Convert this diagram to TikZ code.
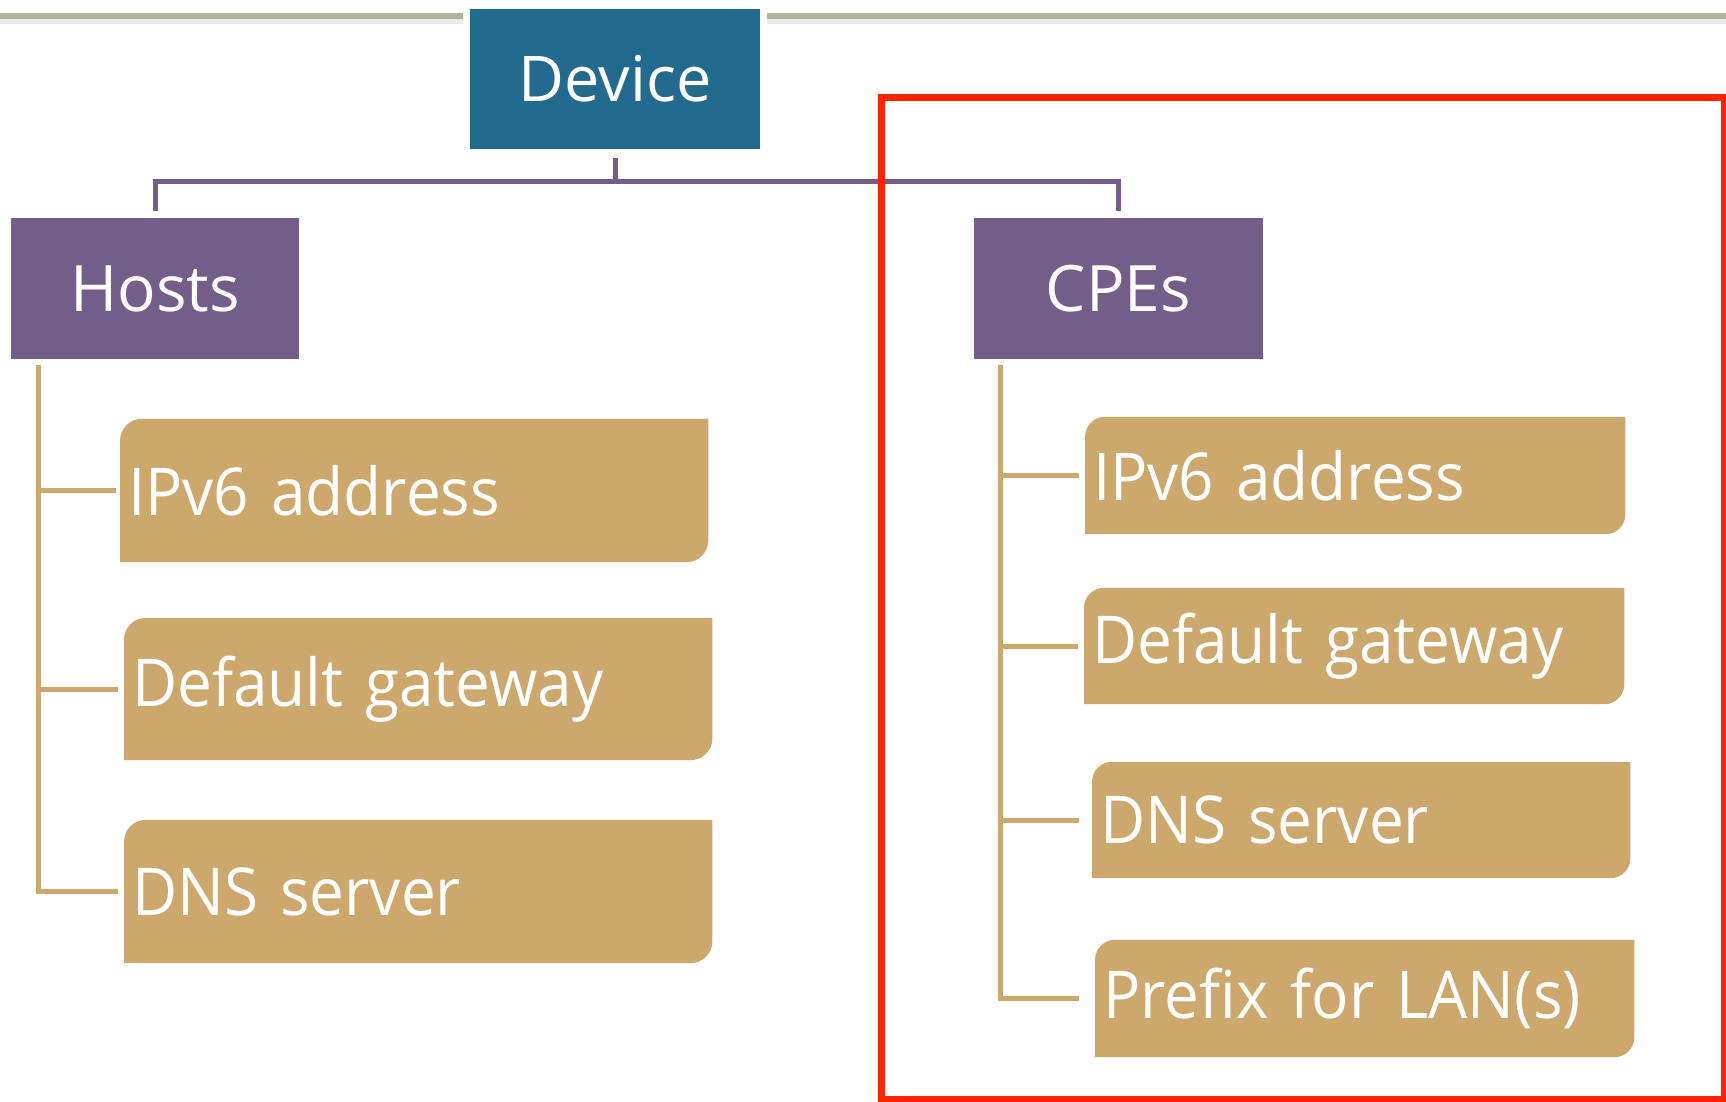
\documentclass[tikz,border=0pt]{standalone}
\usepackage{fontspec}
\setmainfont{Open Sans}
\newfontfamily\leaffont[FakeStretch=0.94]{Open Sans}
\pgfdeclarelayer{bg}
\pgfsetlayers{bg,main}
\definecolor{devblue}{HTML}{226B8F}
\definecolor{grpurple}{HTML}{735E8A}
\definecolor{leaftan}{HTML}{CCA86C}
\definecolor{rulegray}{HTML}{B6B39C}
\definecolor{framered}{HTML}{FF2200}
\tikzset{
  rootbox/.style={rectangle, fill=devblue, draw=white, line width=7pt, text=white,
    minimum width=297pt, minimum height=147pt, inner sep=0pt,
    font=\fontsize{63}{65}\selectfont},
  groupbox/.style={rectangle, fill=grpurple, text=white, minimum width=288pt,
    minimum height=141pt, inner sep=0pt, font=\fontsize{64}{66}\selectfont},
  leafbox/.style={rectangle, anchor=west, text=white, inner xsep=8pt, inner ysep=0pt,
    align=left, font=\leaffont\fontsize{66}{68}\selectfont},
  pline/.style={draw=grpurple, line width=5pt},
  tline/.style={draw=leaftan, line width=5pt},
}
% tan background with rounded top-left and bottom-right corners
\newcommand\leafbg[2]{%
  \begin{pgfonlayer}{bg}
  \fill[leaftan] (#1.south west) -- ([yshift=-#2]#1.north west)
    arc[start angle=180,end angle=90,radius=#2] -- (#1.north east)
    -- ([yshift=#2]#1.south east) arc[start angle=0,end angle=-90,radius=#2] -- cycle;
  \end{pgfonlayer}}
\begin{document}
\begin{tikzpicture}[x=1pt,y=-1pt]
\useasboundingbox (0,0) rectangle (1726,1102);
\begin{pgfonlayer}{bg}
\fill[white] (0,0) rectangle (1726,1102);
\end{pgfonlayer}

% top rule
\fill[black!8] (0,19) rectangle (1726,24);
\draw[rulegray, line width=6pt] (0,16) -- (1726,16);

% root
\node[rootbox] (dev) at (615,79) {Device};

% groups
\node[groupbox] (hosts) at (155,288.5) {Hosts};
\node[groupbox, minimum width=289pt] (cpes) at (1118.5,288.5) {CPEs};

\coordinate (bus) at (615,182);
\draw[pline] ([yshift=-2pt]dev.south) -- (dev.south |- bus);
\draw[pline] ([yshift=7pt]hosts.north) -- (hosts.north |- bus) -| ([yshift=7pt]cpes.north);

% host leaves
\node[leafbox, text width=572pt, minimum height=143pt] (h1) at (120,490.5) {IPv6 address};
\leafbg{h1}{22pt}
\node[leafbox, text width=572pt, minimum height=142pt] (h2) at (124,689) {Default gateway};
\leafbg{h2}{22pt}
\node[leafbox, text width=572pt, minimum height=143pt] (h3) at (124,891.5) {DNS server};
\leafbg{h3}{22pt}

\coordinate (htop) at (38.5,365);
\draw[tline] (htop) -- (htop |- h3.west) -- ([xshift=-6pt]h3.west);
\draw[tline] (htop |- h1.west) -- ([xshift=-4pt]h1.west);
\draw[tline] (htop |- h2.west) -- ([xshift=-6pt]h2.west);

% CPE leaves
\node[leafbox, text width=524pt, minimum height=117pt] (c1) at (1085,475.5) {IPv6 address};
\leafbg{c1}{20pt}
\node[leafbox, text width=524pt, minimum height=116pt] (c2) at (1084,646) {Default gateway};
\leafbg{c2}{20pt}
\node[leafbox, text width=522pt, minimum height=116pt] (c3) at (1092,820) {DNS server};
\leafbg{c3}{20pt}
\node[leafbox, text width=523pt, minimum height=117pt] (c4) at (1095,998.5) {Prefix for LAN(s)};
\leafbg{c4}{20pt}

\coordinate (ctop) at (1000.5,365);
\draw[tline] (ctop) -- (ctop |- c4.west) -- ([xshift=-16pt]c4.west);
\draw[tline] (ctop |- c1.west) -- ([xshift=-6pt]c1.west);
\draw[tline] (ctop |- c2.west) -- ([xshift=-6pt]c2.west);
\draw[tline] (ctop |- c3.west) -- ([xshift=-13pt]c3.west);

% highlight frame
\draw[framered, line width=7pt] (881,98) rectangle (1724,1099);
\end{tikzpicture}
\end{document}
